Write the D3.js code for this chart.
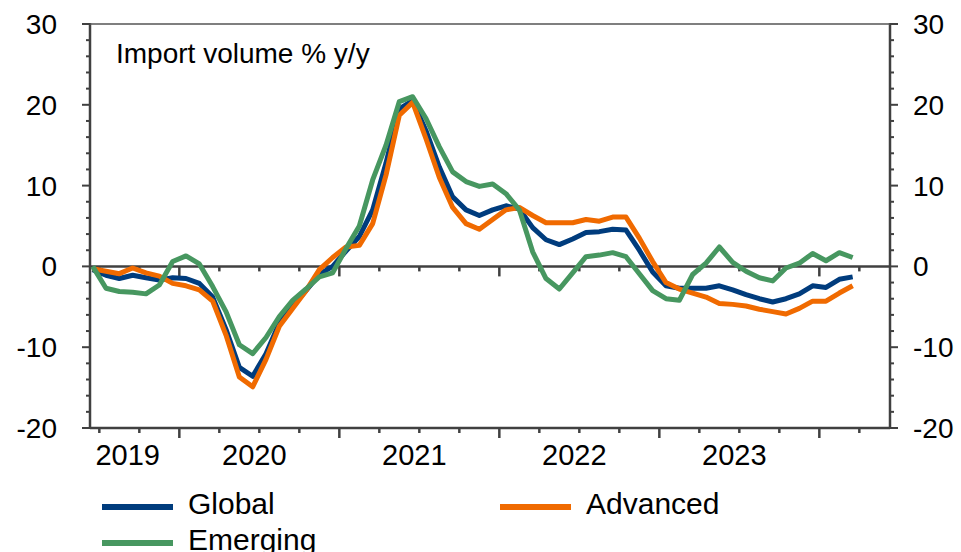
<!DOCTYPE html>
<html>
<head>
<meta charset="utf-8">
<script src="https://cdn.jsdelivr.net/npm/d3@7"></script>
<style>
  html, body { margin: 0; padding: 0; background: #fff; }
  svg { display: block; }
  text { font-family: "Liberation Sans", Arial, sans-serif; fill: #000; }
</style>
</head>
<body>
<svg id="chart" width="961" height="552"></svg>
<script>
// ---- Data (monthly, Jun 2019 .. Mar 2024) ----
const months = [];
for (let k = 0; k < 58; k++) {
  const d = new Date(2019, 5 + k, 1);
  months.push(d3.timeFormat("%Y-%m")(d));
}
const globalVals = [-0.4,-1.1,-1.5,-1.1,-1.4,-1.7,-1.4,-1.5,-2.1,-3.8,-7.8,-12.5,-13.6,-10.8,-7.0,-4.9,-3.0,-1.0,0.0,1.9,
  3.7,7.0,12.8,19.5,20.5,16.8,12.3,8.6,7.0,6.3,7.0,7.5,7.1,4.8,3.3,2.7,3.4,4.2,4.3,4.6,
  4.5,2.0,-0.7,-2.4,-2.7,-2.7,-2.7,-2.4,-2.9,-3.5,-4.0,-4.4,-4.0,-3.4,-2.4,-2.6,-1.6,-1.3];
const advancedVals = [-0.3,-0.6,-0.9,-0.2,-0.8,-1.2,-2.1,-2.4,-2.9,-4.3,-8.5,-13.7,-14.9,-11.5,-7.4,-5.2,-3.0,-0.4,1.1,2.4,
  2.6,5.3,11.3,18.7,20.3,15.8,11.0,7.3,5.3,4.6,5.8,7.0,7.3,6.3,5.4,5.4,5.4,5.8,5.6,6.1,
  6.1,3.5,0.6,-2.0,-2.8,-3.3,-3.8,-4.6,-4.7,-4.9,-5.3,-5.6,-5.9,-5.2,-4.3,-4.3,-3.3,-2.4];
const emergingVals = [0.0,-2.7,-3.1,-3.2,-3.4,-2.3,0.6,1.3,0.3,-2.5,-5.6,-9.7,-10.8,-8.8,-6.2,-4.2,-2.8,-1.3,-0.8,2.2,
  5.0,10.7,15.0,20.4,21.0,18.3,14.8,11.7,10.5,9.9,10.2,9.0,7.0,1.8,-1.5,-2.8,-0.8,1.2,1.4,1.7,
  1.2,-0.9,-3.0,-4.0,-4.2,-1.0,0.4,2.4,0.5,-0.6,-1.4,-1.8,-0.2,0.4,1.6,0.7,1.7,1.1];
const seriesNames = ["Global", "Advanced", "Emerging"];
const seriesColors = ["#003C7D", "#F06A00", "#479760"];
const yTickValues = [-20, -10, 0, 10, 20, 30];
const yearLabels = ["2019", "2020", "2021", "2022", "2023"];
const titleText = "Import volume % y/y";

// ---- Layout ----
const svg = d3.select("#chart");
const L = 90, R = 890, T = 24, B = 428;
const axisColor = "#404040";

const x = d3.scaleLinear().domain([-0.2, 59.8]).range([L, R]);
const y = d3.scaleLinear().domain([-20, 30]).range([B, T]);

// index of each month
const idx = months.map((m, i) => i);

// ---- Y axes ----
const yMinor = d3.range(-20, 31, 2);
function yAxis(side) {
  const g = svg.append("g");
  const isLeft = side === "left";
  const x0 = isLeft ? L : R;
  const dir = isLeft ? -1 : 1;
  g.selectAll("line.tick").data(yMinor).join("line")
    .attr("x1", x0).attr("x2", d => x0 + dir * (d % 10 === 0 ? 8 : 4))
    .attr("y1", d => y(d)).attr("y2", d => y(d))
    .attr("stroke", axisColor).attr("stroke-width", 2);
  g.append("line").attr("x1", x0).attr("x2", x0).attr("y1", T - 1).attr("y2", B + 1)
    .attr("stroke", axisColor).attr("stroke-width", 2.5);
  g.selectAll("text").data(yTickValues).join("text")
    .attr("x", isLeft ? 57 : 913)
    .attr("y", d => y(d))
    .attr("dy", "0.36em")
    .attr("text-anchor", isLeft ? "end" : "start")
    .attr("font-size", 28)
    .text(d => d);
}
yAxis("left");
yAxis("right");

// top border
svg.append("line").attr("x1", L).attr("x2", R).attr("y1", T).attr("y2", T)
  .attr("stroke", "#555").attr("stroke-width", 1.5);

// ---- X axes (bottom + zero line) ----
const qTicks = d3.range(0.5, 58, 3);
function xAxisAt(yPos) {
  const g = svg.append("g");
  g.selectAll("line.tick").data(qTicks).join("line")
    .attr("x1", d => x(d)).attr("x2", d => x(d))
    .attr("y1", yPos).attr("y2", d => yPos + (((d - 6.5) % 12 === 0) ? 10 : 5))
    .attr("stroke", axisColor).attr("stroke-width", 2.5);
  g.append("line").attr("x1", L).attr("x2", R).attr("y1", yPos).attr("y2", yPos)
    .attr("stroke", axisColor).attr("stroke-width", 2.5);
}
xAxisAt(B);

// year labels centred on data months of each year
const yearCenters = yearLabels.map(yr => {
  const ii = idx.filter(i => months[i].startsWith(yr));
  return (ii[0] + ii[ii.length - 1]) / 2;
});
svg.selectAll("text.year").data(yearLabels).join("text")
  .attr("class", "year")
  .attr("x", (d, k) => x(yearCenters[k]) - 5)
  .attr("y", 465)
  .attr("text-anchor", "middle")
  .attr("font-size", 29)
  .text(d => d);

// title
svg.append("text").attr("x", 116).attr("y", 63).attr("font-size", 28).text(titleText);

// ---- Lines ----
const allSeries = [globalVals, advancedVals, emergingVals];
const line = d3.line().x((d, i) => x(i)).y(d => y(d));
const clip = svg.append("clipPath").attr("id", "plotclip").append("rect")
  .attr("x", L).attr("y", T).attr("width", R - L).attr("height", B - T);

// zero line drawn under series
xAxisAt(y(0));

allSeries.forEach((vals, k) => {
  svg.append("path")
    .datum(vals)
    .attr("d", line)
    .attr("fill", "none")
    .attr("stroke", seriesColors[k])
    .attr("stroke-width", 5)
    .attr("stroke-linejoin", "round")
    .attr("clip-path", "url(#plotclip)");
});

// ---- Legend ----
const legendItems = [
  { name: seriesNames[0], color: seriesColors[0], lx: 102, tx: 188, ly: 507, ty: 514 },
  { name: seriesNames[1], color: seriesColors[1], lx: 500, tx: 586, ly: 507, ty: 514 },
  { name: seriesNames[2], color: seriesColors[2], lx: 102, tx: 188, ly: 543, ty: 550 }
];
const lg = svg.append("g");
legendItems.forEach(it => {
  lg.append("line").attr("x1", it.lx).attr("x2", it.lx + 71).attr("y1", it.ly).attr("y2", it.ly)
    .attr("stroke", it.color).attr("stroke-width", 6);
  lg.append("text").attr("x", it.tx).attr("y", it.ty).attr("font-size", 30).text(it.name);
});
</script>
</body>
</html>
